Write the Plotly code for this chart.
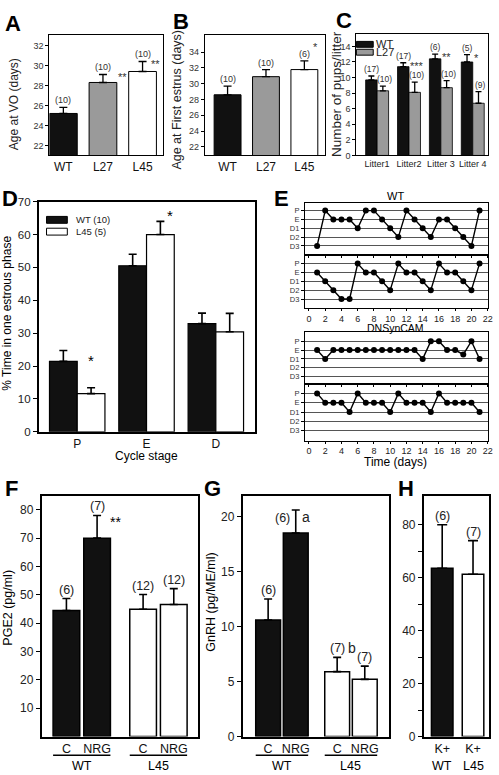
import plotly.graph_objects as go

W, H = 499, 775
FONT = "Liberation Sans, Arial, sans-serif"


def px(x):
    return x / W


def py(y):
    return 1 - y / H


# ---------------- data ----------------
a_groups = ["WT", "L27", "L45"]
a_vals = [25.2, 28.3, 29.4]
a_err = [0.6, 0.8, 1.0]
a_n = ["(10)", "(10)", "(10)"]
a_sig = ["", "**", "**"]

b_groups = ["WT", "L27", "L45"]
b_vals = [28.6, 30.9, 31.8]
b_err = [1.1, 0.9, 1.1]
b_n = ["(10)", "(10)", "(6)"]
b_sig = ["", "", "*"]

c_litters = ["Litter1", "Litter2", "Litter 3", "Litter 4"]
c_wt = [9.7, 11.4, 12.4, 12.0]
c_wt_err = [0.5, 0.5, 0.6, 0.95]
c_l27 = [8.3, 8.1, 8.7, 6.7]
c_l27_err = [0.6, 1.3, 0.9, 1.5]
c_wt_n = ["(17)", "(17)", "(6)", "(5)"]
c_l27_n = ["(10)", "(10)", "(10)", "(9)"]
c_sig = ["", "***", "**", "*"]

d_stages = ["P", "E", "D"]
d_wt = [21.4, 50.5, 32.9]
d_wt_err = [3.3, 3.5, 3.2]
d_l45 = [11.6, 60.0, 30.4]
d_l45_err = [1.8, 4.0, 5.6]
d_sig = ["*", "*", ""]

# estrous stage codes: D3=1, D2=2, D1=3, E=4, P=5
e_levels = ["D3", "D2", "D1", "E", "P"]
e_days = list(range(1, 22))
e_wt_1 = [1, 5, 4, 4, 4, 3, 5, 5, 4, 3, 2, 5, 4, 3, 2, 4, 4, 3, 2, 1, 5]
e_wt_2 = [4, 3, 2, 1, 1, 5, 4, 4, 3, 2, 5, 4, 4, 3, 2, 5, 4, 4, 3, 2, 5]
e_dn_1 = [4, 3, 4, 4, 4, 4, 4, 4, 4, 4, 4, 4, 4, 3, 5, 5, 4, 4, 3.5, 5, 3]
e_dn_2 = [5, 4, 4, 4, 3, 5, 4, 4, 4, 3, 5, 4, 4, 4, 3, 5, 4, 4, 4, 4, 3]
e_xticks = list(range(0, 23, 2))

f_labels = ["C", "NRG", "C", "NRG"]
f_groups = ["WT", "WT", "L45", "L45"]
f_vals = [44.5, 70.0, 44.9, 46.6]
f_err = [4.2, 8.0, 5.2, 5.6]
f_n = ["(6)", "(7)", "(12)", "(12)"]
f_sig = ["", "**", "", ""]

g_labels = ["C", "NRG", "C", "NRG"]
g_groups = ["WT", "WT", "L45", "L45"]
g_vals = [10.6, 18.5, 5.9, 5.2]
g_err = [1.9, 2.1, 1.3, 1.2]
g_n = ["(6)", "(6)", "(7)", "(7)"]
g_sig = ["", "a", "b", ""]

h_labels = ["K+", "K+"]
h_groups = ["WT", "L45"]
h_vals = [63.6, 61.3]
h_err = [16.4, 12.7]
h_n = ["(6)", "(7)"]

# ---------------- helpers ----------------
BLACK = "#111111"
GRAY = "#9a9a9a"
WHITE = "#ffffff"
fig = go.Figure()
anns = []
shapes = []


def ax(i):
    return ("x" if i == 1 else f"x{i}"), ("y" if i == 1 else f"y{i}")


def add_bar(i, x, y, err, colors, width, lw=1.0, capw=4, th=1.3):
    xa, ya = ax(i)
    fig.add_trace(go.Bar(
        x=x, y=y, width=width, xaxis=xa, yaxis=ya, showlegend=False,
        marker=dict(color=colors, line=dict(color="black", width=lw)),
        error_y=dict(type="data", array=err, arrayminus=[0] * len(err),
                     symmetric=False, color="black", thickness=th, width=capw),
        hoverinfo="skip"))


def note(text, x, y, i=None, size=10, color="black", xanchor="center",
         yanchor="bottom", xshift=0, yshift=0, angle=0, bold=False):
    if i is None:
        xr, yr = "paper", "paper"
    else:
        xa, ya = ax(i)
        xr, yr = xa, ya
    if bold:
        text = f"<b>{text}</b>"
    anns.append(dict(text=text, x=x, y=y, xref=xr, yref=yr, showarrow=False,
                     font=dict(family=FONT, size=size, color=color),
                     xanchor=xanchor, yanchor=yanchor, xshift=xshift,
                     yshift=yshift, textangle=angle))


def group_pos(groups, gap=0.5):
    pos, g, prev = [], 0.0, None
    for k, gr in enumerate(groups):
        if prev is not None and gr != prev:
            g += gap
        pos.append(k + 1 + g)
        prev = gr
    return pos


def fill_for(groups):
    return [BLACK if gr == "WT" else WHITE for gr in groups]


# ---------------- A ----------------
a_x = list(range(len(a_groups)))
add_bar(1, a_x, a_vals, a_err, [BLACK, GRAY, WHITE], 0.7, lw=1.0, capw=4)
for k in a_x:
    note(a_n[k], k, a_vals[k] + a_err[k], 1, size=9, color="#333", yshift=0)
a_sig_shift = [0, 13, 6]
for k in a_x:
    if a_sig[k]:
        note(a_sig[k], k, a_vals[k] + a_err[k], 1, size=11, color="#333",
             xanchor="left", yanchor="middle", xshift=a_sig_shift[k], yshift=-3)

# ---------------- B ----------------
b_x = list(range(len(b_groups)))
add_bar(2, b_x, b_vals, b_err, [BLACK, GRAY, WHITE], 0.7, lw=1.0, capw=4)
for k in b_x:
    note(b_n[k], k, b_vals[k] + b_err[k], 2, size=9, color="#333")
    if b_sig[k]:
        note(b_sig[k], k, b_vals[k] + b_err[k], 2, size=11, color="#333",
             xanchor="left", yanchor="bottom", xshift=7, yshift=6)

# ---------------- C ----------------
c_x = list(range(len(c_litters)))
add_bar(3, [k - 0.18 for k in c_x], c_wt, c_wt_err, BLACK, 0.36, lw=0.8, capw=3)
add_bar(3, [k + 0.18 for k in c_x], c_l27, c_l27_err, GRAY, 0.36, lw=0.8, capw=3)
for k in c_x:
    note(c_wt_n[k], k - 0.18, c_wt[k] + c_wt_err[k], 3, size=8.5, color="#333")
    note(c_l27_n[k], k + 0.18, c_l27[k] + c_l27_err[k], 3, size=8.5, color="#333", xshift=2)
    if c_sig[k]:
        note(c_sig[k], k - 0.18, c_wt[k] + c_wt_err[k], 3, size=11, color="#333",
             xanchor="left", yanchor="middle", xshift=5, yshift=-3)

# ---------------- D ----------------
d_x = list(range(len(d_stages)))
add_bar(4, [k - 0.2 for k in d_x], d_wt, d_wt_err, BLACK, 0.4, lw=1.2, capw=4, th=1.6)
add_bar(4, [k + 0.2 for k in d_x], d_l45, d_l45_err, WHITE, 0.4, lw=1.2, capw=4, th=1.6)
d_sig_off = [(0, 29), (10, 8)]
for k in d_x:
    if d_sig[k]:
        xs, ys = d_sig_off[k]
        note(d_sig[k], k + 0.2, d_l45[k] + d_l45_err[k], 4, size=15,
             xanchor="center", yanchor="middle", xshift=xs, yshift=ys - 2)

# ---------------- E ----------------
for i, series in zip([5, 6, 7, 8], [e_wt_1, e_wt_2, e_dn_1, e_dn_2]):
    xa, ya = ax(i)
    fig.add_trace(go.Scatter(
        x=e_days, y=series, xaxis=xa, yaxis=ya, mode="lines+markers",
        line=dict(color="black", width=1.4), marker=dict(color="black", size=6),
        showlegend=False, hoverinfo="skip"))

# ---------------- F ----------------
f_x = group_pos(f_groups)
add_bar(9, f_x, f_vals, f_err, fill_for(f_groups), 0.87, lw=1.5, capw=4, th=1.6)
for k in range(len(f_x)):
    note(f_n[k], f_x[k], f_vals[k] + f_err[k], 9, size=12.5, color="#222")
    if f_sig[k]:
        note(f_sig[k], f_x[k], f_vals[k] + f_err[k], 9, size=14, xanchor="left",
             yanchor="middle", xshift=11, yshift=-7)

# ---------------- G ----------------
g_x = group_pos(g_groups)
add_bar(10, g_x, g_vals, g_err, fill_for(g_groups), 0.9, lw=1.5, capw=4, th=1.6)
for k in range(len(g_x)):
    top = g_vals[k] + g_err[k]
    if g_sig[k] == "a":
        note(g_n[k], g_x[k], top, 10, size=12.5, color="#222", xanchor="right",
             yanchor="middle", xshift=-4, yshift=-8)
        note(g_sig[k], g_x[k], top, 10, size=14, color="#222", xanchor="left",
             yanchor="middle", xshift=4, yshift=-7)
    else:
        note(g_n[k], g_x[k], top, 10, size=12.5, color="#222")
        if g_sig[k]:
            note(g_sig[k], g_x[k], top, 10, size=14, color="#222",
                 xanchor="left", yanchor="bottom", xshift=9, yshift=-1)

# ---------------- H ----------------
h_x = list(range(1, len(h_groups) + 1))
add_bar(11, h_x, h_vals, h_err, fill_for(h_groups), 0.7, lw=1.5, capw=5, th=1.6)
for k in range(len(h_x)):
    note(h_n[k], h_x[k], h_vals[k] + h_err[k], 11, size=12.5, color="#222")

# group underlines and group labels for F, G, H
for i, xs, groups, widths in [(9, f_x, f_groups, 0.87), (10, g_x, g_groups, 0.9)]:
    xa, _ = ax(i)
    for gname in dict.fromkeys(groups):
        members = [xs[k] for k in range(len(xs)) if groups[k] == gname]
        shapes.append(dict(type="line", xref=xa, yref="paper",
                           x0=min(members) - widths / 2, x1=max(members) + widths / 2,
                           y0=py(762), y1=py(762), line=dict(color="black", width=1.6)))
        note(gname, sum(members) / len(members), py(764), None, size=12.5, yanchor="top")
        anns[-1]["xref"] = xa
for k, gname in enumerate(h_groups):
    note(gname, h_x[k], py(764), None, size=12.5, yanchor="top")
    anns[-1]["xref"] = "x11"

# ---------------- axes ----------------
def box(domain_x, domain_y, rng, lw=1.2, **kw):
    d = dict(domain=domain_x if domain_x else domain_y, range=rng, showline=True,
             linecolor="black", linewidth=lw, mirror=True, showgrid=False,
             zeroline=False, ticks="outside", ticklen=4, tickcolor="black",
             tickwidth=1, tickfont=dict(family=FONT, size=10, color="#222"),
             fixedrange=True)
    d.update(kw)
    return d


lay = {}
# A
lay["xaxis"] = box([px(50), px(165)], None, [-0.35, 2.525], ticks="",
                   tickvals=a_x, ticktext=a_groups,
                   tickfont=dict(family=FONT, size=12, color="#111"))
lay["yaxis"] = box(None, [py(152), py(30)], [21, 33], tickvals=list(range(22, 33, 2)),
                   tickfont=dict(family=FONT, size=9, color="#333"), ticklen=3)
# B
lay["xaxis2"] = box([px(207), px(328)], None, [-0.59, 2.53], ticks="",
                    tickvals=b_x, ticktext=b_groups,
                    tickfont=dict(family=FONT, size=12, color="#111"))
lay["yaxis2"] = box(None, [py(152), py(29)], [20.9, 36.25], tickvals=list(range(22, 35, 2)),
                    tickfont=dict(family=FONT, size=9, color="#333"), ticklen=3)
# C
lay["xaxis3"] = box([px(360), px(493)], None, [-0.65, 3.48], ticks="",
                    tickvals=c_x, ticktext=c_litters,
                    tickfont=dict(family=FONT, size=9, color="#222"))
lay["yaxis3"] = box(None, [py(152), py(28)], [0, 15.65], tickvals=list(range(0, 15, 2)),
                    tickfont=dict(family=FONT, size=9, color="#333"), ticklen=3)
# D
lay["xaxis4"] = box([px(39), px(258)], None, [-0.557, 2.571], ticks="",
                    tickvals=d_x, ticktext=d_stages, lw=1.5,
                    tickfont=dict(family=FONT, size=12, color="#111"))
lay["yaxis4"] = box(None, [py(433), py(199)], [0, 70], tickvals=list(range(0, 71, 10)),
                    lw=1.5, tickfont=dict(family=FONT, size=11.5, color="#222"))
# E
e_dom = {5: (200, 253, [0, 5.9]), 6: (253, 307, [0, 6.0]),
         7: (332, 384, [0.2, 6.0]), 8: (384, 442, [-0.05, 6.05])}
for i, (t, b, rng) in e_dom.items():
    lay[f"xaxis{i}"] = box([px(308), px(493)], None, [-0.5, 22.05], lw=1,
                           tickvals=e_xticks, ticklen=2,
                           showticklabels=(i in (6, 8)),
                           tickfont=dict(family=FONT, size=9, color="#222"))
    lay[f"yaxis{i}"] = box(None, [py(b), py(t)], rng, lw=1, tickvals=[1, 2, 3, 4, 5],
                           ticktext=e_levels, ticklen=3, showgrid=True,
                           gridcolor="#555555", gridwidth=1,
                           tickfont=dict(family=FONT, size=7.5, color="#333"))
# F
lay["xaxis9"] = box([px(42), px(200)], None, [0.19, 5.29], ticks="", lw=1.5,
                    tickvals=f_x, ticktext=f_labels,
                    tickfont=dict(family=FONT, size=12.5, color="#111"))
lay["yaxis9"] = box(None, [py(743), py(498)], [0, 85], tickvals=list(range(10, 81, 10)),
                    lw=1.5, tickfont=dict(family=FONT, size=12, color="#222"))
# G
lay["xaxis10"] = box([px(245), px(393)], None, [0.073, 5.38], ticks="", lw=1.5,
                     tickvals=g_x, ticktext=g_labels,
                     tickfont=dict(family=FONT, size=12.5, color="#111"))
lay["yaxis10"] = box(None, [py(743), py(498)], [0, 21.9], tickvals=[0, 5, 10, 15, 20],
                     lw=1.5, tickfont=dict(family=FONT, size=12, color="#222"))
# H
lay["xaxis11"] = box([px(428), px(494)], None, [0.4, 2.52], ticks="", lw=1.5,
                     tickvals=h_x, ticktext=h_labels,
                     tickfont=dict(family=FONT, size=12.5, color="#111"))
lay["yaxis11"] = box(None, [py(743), py(498)], [0, 91], tickvals=list(range(0, 81, 10)),
                     ticktext=["0", "", "20", "", "40", "", "60", "", "80"],
                     lw=1.5, tickfont=dict(family=FONT, size=12, color="#222"))

for i in range(1, 12):
    xa, ya = ax(i)
    lay["xaxis" if i == 1 else f"xaxis{i}"]["anchor"] = ya
    lay["yaxis" if i == 1 else f"yaxis{i}"]["anchor"] = xa

# ---------------- titles / labels ----------------
for letter, x, y in [("A", 3, 3), ("B", 173, 1), ("C", 337, 0), ("D", 0, 181),
                     ("E", 275, 181), ("F", 3, 476), ("G", 204, 476), ("H", 400, 476)]:
    note(letter, px(x), py(y), None, size=22, xanchor="left", yanchor="top", bold=True)

note("Age at VO (days)", px(14), py(100), None, size=12, xanchor="center", yanchor="middle", angle=-90, color="#222")
note("Age at First estrus (days)", px(179), py(95), None, size=12.5, xanchor="center", yanchor="middle", angle=-90, color="#222")
note("Number of pups/litter", px(340), py(90), None, size=13.5, xanchor="center", yanchor="middle", angle=-90, color="#222")
note("% Time in one estrous phase", px(7), py(312), None, size=12, xanchor="center", yanchor="middle", angle=-90)
note("Cycle stage", px(148), py(458), None, size=12, xanchor="center", yanchor="middle")
note("WT", px(400), py(193), None, size=11, xanchor="center", yanchor="middle")
note("DNSynCAM", px(400), py(327), None, size=10.5, xanchor="center", yanchor="middle")
note("Time (days)", px(400), py(464), None, size=12, xanchor="center", yanchor="middle")
note("PGE2 (pg/ml)", px(8), py(612), None, size=12.5, xanchor="center", yanchor="middle", angle=-90)
note("GnRH (pg/ME/ml)", px(213), py(606), None, size=12.5, xanchor="center", yanchor="middle", angle=-90)

# legends (C and D)
for (x0, x1, y0, y1, fill, label, tx, size) in [
        (360, 377, 36, 42, BLACK, "WT", 378, 11),
        (360, 377, 44, 50, GRAY, "L27", 378, 11),
        (47, 68, 214, 221, BLACK, "WT (10)", 75, 9.5),
        (47, 68, 226, 233, WHITE, "L45 (5)", 75, 9.5)]:
    shapes.append(dict(type="rect", xref="paper", yref="paper", x0=px(x0), x1=px(x1),
                       y0=py(y1), y1=py(y0), fillcolor=fill,
                       line=dict(color="black", width=1)))
    note(label, px(tx), py((y0 + y1) / 2), None, size=size, xanchor="left",
         yanchor="middle", color="#222")

fig.update_layout(
    width=W, height=H, margin=dict(l=0, r=0, t=0, b=0, pad=0),
    paper_bgcolor="white", plot_bgcolor="white", barmode="overlay",
    showlegend=False, font=dict(family=FONT, size=11, color="black"),
    annotations=anns, shapes=shapes, **lay)

fig.write_html("out.html", config={"displayModeBar": False},
               post_script="document.body.style.margin='0';document.body.style.overflow='hidden';")
